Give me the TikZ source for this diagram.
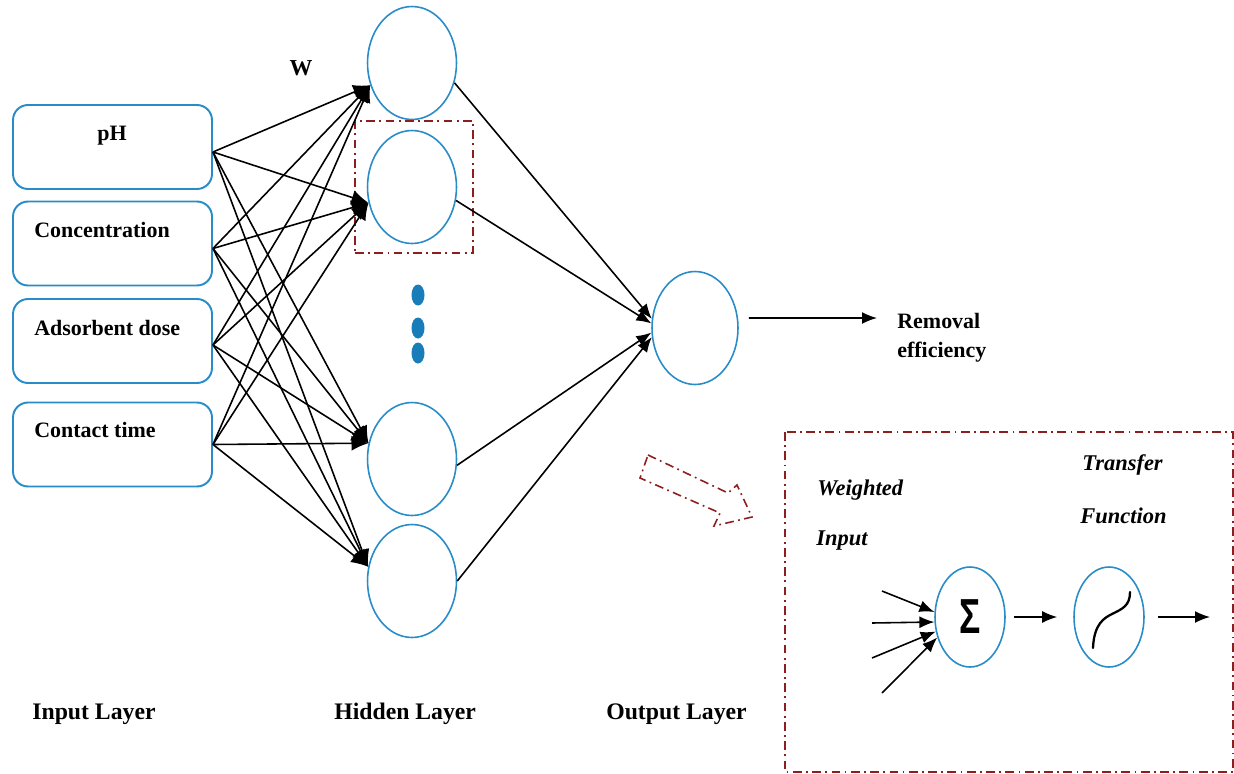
\documentclass[tikz,border=0pt]{standalone}
\usepackage{fontspec}
\setmainfont{Liberation Serif}
\newfontfamily\sigmafont{Liberation Sans}
\usetikzlibrary{arrows.meta,shapes.geometric}
\definecolor{nodeblue}{RGB}{40,140,200}
\definecolor{dotblue}{RGB}{25,125,185}
\definecolor{boxred}{RGB}{140,30,30}

\begin{document}
\begin{tikzpicture}[x=0.02cm,y=-0.02cm,
  inbox/.style={draw=nodeblue,line width=1.1pt,rounded corners=0.3cm,minimum width=3.98cm,minimum height=1.68cm,inner sep=0pt},
  neuron/.style={draw=nodeblue,line width=0.9pt,ellipse,minimum width=1.78cm,minimum height=2.26cm,inner sep=0pt},
  unit/.style={draw=nodeblue,line width=0.9pt,ellipse,minimum width=1.4cm,minimum height=2cm,inner sep=0pt},
  dot/.style={fill=dotblue,ellipse,minimum width=0.26cm,minimum height=0.42cm,inner sep=0pt},
  lbl/.style={font=\bfseries\fontsize{12.5}{15}\selectfont,inner sep=0pt},
  layer/.style={font=\bfseries\fontsize{13.5}{15}\selectfont,inner sep=0pt},
  ital/.style={font=\bfseries\itshape\fontsize{12.8}{15}\selectfont,inner sep=0pt},
  wt/.style={line width=0.9pt,-{Latex[length=3.4mm,width=3mm]}},
  wire/.style={line width=0.9pt,-{Latex[length=3mm,width=2.4mm]}},
  redline/.style={draw=boxred,line width=0.9pt,dash pattern=on 5pt off 2.5pt on 1pt off 2.5pt}]
\useasboundingbox[fill=white] (0,0) rectangle (1234,774);

% input layer
\node[inbox] (in1) at (112.5,147) {};
\node[inbox] (in2) at (112.5,243.5) {};
\node[inbox] (in3) at (112.5,341) {};
\node[inbox] (in4) at (112.5,444.5) {};
\node[lbl,anchor=base] (ph) at (112,140) {pH};
\node[lbl,anchor=base west] (conc) at (34,237) {Concentration};
\node[lbl,anchor=base west] (dose) at (34,335) {Adsorbent dose};
\node[lbl,anchor=base west] (time) at (34,437) {Contact time};

% hidden layer
\node[neuron] (h1) at (412,63) {};
\node[neuron] (h2) at (412,187) {};
\node[neuron] (h3) at (412,459) {};
\node[neuron] (h4) at (412,581) {};
\node[dot] (d1) at (418,295) {};
\node[dot] (d2) at (418,328) {};
\node[dot] (d3) at (418,353) {};
\node[redline,minimum width=2.36cm,minimum height=2.64cm,inner sep=0pt] (sel) at (414,187) {};
\node[lbl,font=\bfseries\fontsize{13}{15}\selectfont,anchor=base] (w) at (301,75) {W};

% output layer
\node[neuron,minimum width=1.72cm] (out) at (695,328) {};
\coordinate (res) at (877,318);
\node[lbl,anchor=base west] (rem) at (897,328) {Removal};
\node[lbl,anchor=base west] (eff) at (897,357) {efficiency};

% weights
\draw[wt] ([yshift=-0.1cm]in1.east) -- (h1.208);
\draw[wt] ([yshift=-0.1cm]in1.east) -- (h2.200);
\draw[wt] ([yshift=-0.1cm]in1.east) -- (h3.160);
\draw[wt] ([yshift=-0.1cm]in1.east) -- (h4.162);
\draw[wt] ([yshift=-0.1cm]in2.east) -- (h1.208);
\draw[wt] ([yshift=-0.1cm]in2.east) -- (h2.200);
\draw[wt] ([yshift=-0.1cm]in2.east) -- (h3.160);
\draw[wt] ([yshift=-0.1cm]in2.east) -- (h4.162);
\draw[wt] ([yshift=-0.08cm]in3.east) -- (h1.208);
\draw[wt] ([yshift=-0.08cm]in3.east) -- (h2.200);
\draw[wt] ([yshift=-0.08cm]in3.east) -- (h3.160);
\draw[wt] ([yshift=-0.08cm]in3.east) -- (h4.162);
\draw[wt] (in4.east) -- (h1.208);
\draw[wt] (in4.east) -- (h2.200);
\draw[wt] (in4.east) -- (h3.160);
\draw[wt] (in4.east) -- (h4.162);
\draw[wire] (h1.-25) -- (out.168);
\draw[wire] (h2.-17) -- (out.174);
\draw[wire] (h3.-8) -- (out.186);
\draw[wire] (h4.0) -- (out.192);
\draw[wire] ([xshift=0.2cm,yshift=0.2cm]out.east) -- (res);

% zoomed neuron
\draw[redline] (648,455) -- (728,493) -- (737,485) -- (752,517) -- (714,526) -- (720,513) -- (640,478) -- cycle;
\draw[redline,line width=0.7pt] (785,432) rectangle (1233,772);
\node[ital,anchor=base west] (wgt) at (817,495) {Weighted};
\node[ital,anchor=base west] (inp) at (816,545) {Input};
\node[ital,anchor=base west] (trf) at (1082,470) {Transfer};
\node[ital,anchor=base west] (fun) at (1080,523) {Function};
\node[unit,font=\sigmafont\bfseries\fontsize{28}{28}\selectfont] (sum) at (970,617) {\scalebox{0.72}[1]{Σ}};
\node[unit] (act) at (1109,617) {};
\coordinate (x1) at (882,591);
\coordinate (x2) at (872,623);
\coordinate (x3) at (872,658);
\coordinate (x4) at (882,693);
\coordinate (y) at (1210,617);
\draw[wire] (x1) -- (sum.172);
\draw[wire] (x2) -- (sum.188);
\draw[wire] (x3) -- (sum.203);
\draw[wire] (x4) -- (sum.212);
\draw[wire,shorten <=0.16cm,shorten >=0.32cm] (sum) -- (act);
\draw[wire,shorten <=0.26cm] (act.east) -- (y);
\draw[line width=1.3pt,line cap=round] (1093,648) .. controls (1094,624) and (1104,618) .. (1112,614) .. controls (1122,609) and (1130,606) .. (1130,592);

% layer names
\node[layer,anchor=base west] (il) at (32,719) {Input Layer};
\node[layer,anchor=base west] (hl) at (334,719) {Hidden Layer};
\node[layer,anchor=base west] (ol) at (606,719) {Output Layer};
\end{tikzpicture}
\end{document}
